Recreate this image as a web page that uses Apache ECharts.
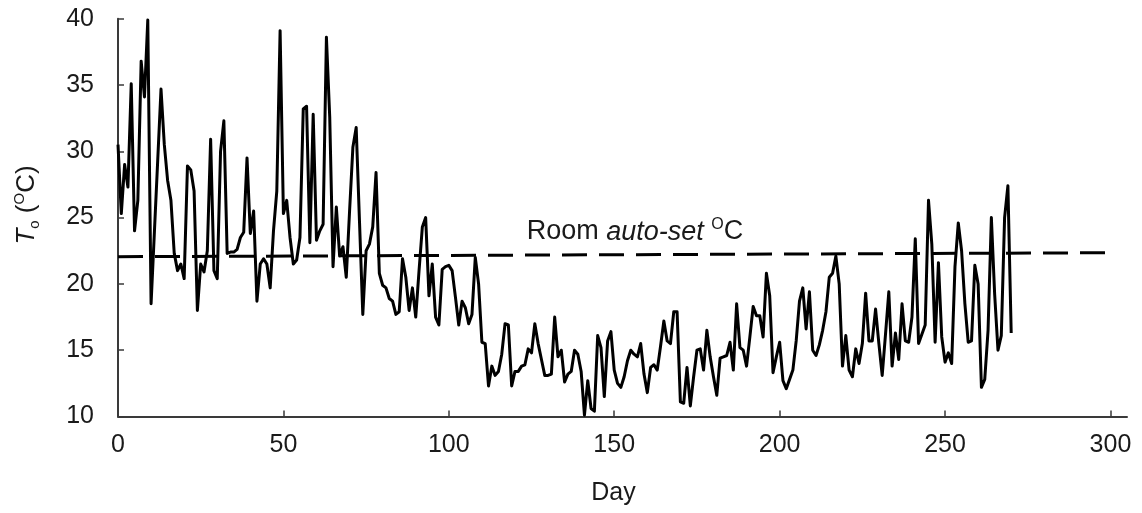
<!DOCTYPE html>
<html>
<head>
<meta charset="utf-8">
<title>Room temperature</title>
<script src="https://cdn.jsdelivr.net/npm/echarts@6/dist/echarts.min.js"></script>
<style>
html, body { margin: 0; padding: 0; background: #fff; }
#lineDomTemp { width: 1142px; height: 513px; }
</style>
</head>
<body>
<div id="lineDomTemp"></div>
<script>
// daily temperature, day 0 .. 270
var firstDay = 0;
var tempO = [
	30.5, 25.3, 29.0, 27.3, 35.1, 24.0, 26.3, 36.8, 34.1, 39.9,
	18.5, 23.9, 29.3, 34.7, 30.5, 27.8, 26.3, 22.3, 21.0, 21.5,
	20.4, 28.9, 28.6, 27.0, 18.0, 21.5, 20.9, 22.5, 30.9, 21.0,
	20.4, 30.0, 32.3, 22.3, 22.4, 22.4, 22.6, 23.5, 23.9, 29.5,
	23.8, 25.5, 18.7, 21.5, 21.9, 21.5, 19.7, 24.0, 27.0, 39.1,
	25.3, 26.3, 23.5, 21.5, 21.8, 23.5, 33.2, 33.4, 23.1, 32.8,
	23.3, 24.0, 24.5, 38.6, 32.6, 21.3, 25.8, 22.1, 22.8, 20.5,
	25.5, 30.3, 31.8, 24.7, 17.7, 22.5, 23.0, 24.3, 28.4, 20.8,
	19.9, 19.7, 18.9, 18.7, 17.7, 17.9, 21.9, 20.5, 18.0, 19.7,
	17.5, 21.0, 24.3, 25.0, 19.1, 21.5, 17.5, 16.9, 21.1, 21.3,
	21.4, 21.0, 19.0, 16.9, 18.7, 18.2, 17.0, 17.7, 22.0, 20.0,
	15.6, 15.5, 12.3, 13.8, 13.1, 13.4, 14.7, 17.0, 16.9, 12.3,
	13.4, 13.4, 13.8, 13.9, 15.1, 14.8, 17.0, 15.5, 14.3, 13.1,
	13.1, 13.2, 17.5, 14.5, 15.0, 12.6, 13.2, 13.4, 15.0, 14.7,
	13.4, 10.1, 12.7, 10.6, 10.4, 16.1, 15.2, 11.5, 15.7, 16.4,
	13.5, 12.5, 12.2, 13.0, 14.2, 15.0, 14.7, 14.5, 15.5, 13.2,
	11.8, 13.7, 13.9, 13.5, 15.3, 17.2, 15.7, 15.5, 17.9, 17.9,
	11.1, 11.0, 13.7, 10.8, 13.0, 15.0, 15.1, 13.5, 16.5, 14.5,
	13.0, 11.6, 14.4, 14.5, 14.6, 15.6, 13.5, 18.5, 15.2, 15.0,
	13.8, 16.0, 18.3, 17.6, 17.6, 16.0, 20.8, 19.1, 13.3, 14.5,
	15.6, 12.7, 12.1, 12.8, 13.5, 15.7, 18.7, 19.7, 16.6, 19.4,
	15.0, 14.6, 15.4, 16.5, 17.9, 20.5, 20.8, 22.1, 20.0, 13.8,
	16.1, 13.5, 13.0, 15.1, 14.0, 15.5, 19.3, 15.7, 15.7, 18.1,
	15.5, 13.1, 16.2, 19.4, 13.8, 16.3, 14.3, 18.5, 15.7, 15.6,
	17.5, 23.4, 15.5, 16.2, 16.9, 26.3, 23.0, 15.6, 21.6, 16.0,
	14.1, 14.8, 14.0, 21.3, 24.6, 22.5, 18.5, 15.6, 15.7, 21.4,
	20.0, 12.2, 12.8, 16.5, 25.0, 19.2, 15.0, 16.1, 25.0, 27.4,
	16.3
];
// room auto-set line (start / end)
var autoSetDays = [0, 301];
var autoSetTemp = [22.05, 22.35];
// axis ticks
var xTicks = [0, 50, 100, 150, 200, 250, 300];
var yMin = 10, yMax = 40, yStep = 5;

var fontName = "'Liberation Sans', Arial, sans-serif";
var textColor = "#1a1a1a";
var axisColor = "#3a3a3a";

var tempData = [];
for (var i = 0; i < tempO.length; i++) {
	tempData.push([firstDay + i, tempO[i]]);
}
var autoSetData = [];
for (var j = 0; j < autoSetDays.length; j++) {
	autoSetData.push([autoSetDays[j], autoSetTemp[j]]);
}

var myChartTemp = echarts.init(document.getElementById('lineDomTemp'));
var optionTemp = {
	animation : false,
	grid : {
		left : 118,
		right : 15,
		top : 18.7,
		bottom : 96.5,
		outerBoundsMode : 'none'
	},
	xAxis : {
		type : 'value',
		min : 0,
		max : 305,
		interval : 50,
		splitLine : { show : false },
		axisLine : { lineStyle : { color : axisColor, width : 2 } },
		axisTick : {
			inside : true,
			length : 6,
			customValues : xTicks,
			lineStyle : { color : axisColor, width : 1.5 }
		},
		axisLabel : {
			margin : 16,
			customValues : xTicks,
			color : textColor,
			fontFamily : fontName,
			fontSize : 25
		},
		name : 'Day',
		nameLocation : 'middle',
		nameGap : 64,
		nameTextStyle : {
			color : textColor,
			fontFamily : fontName,
			fontSize : 25,
			padding : [0, 18, 0, 0]
		}
	},
	yAxis : {
		type : 'value',
		min : yMin,
		max : yMax,
		interval : yStep,
		splitLine : { show : false },
		axisLine : { show : true, lineStyle : { color : axisColor, width : 2 } },
		axisTick : {
			show : true,
			inside : true,
			length : 6,
			lineStyle : { color : axisColor, width : 1.5 }
		},
		axisLabel : {
			margin : 24,
			color : textColor,
			fontFamily : fontName,
			fontSize : 25
		}
	},
	graphic : [ {
		type : 'text',
		x : 27,
		y : 205,
		rotation : Math.PI / 2,
		style : {
			text : '{i|T}{sub|o} ({sup|O}C)',
			align : 'center',
			verticalAlign : 'middle',
			fill : textColor,
			font : '26px ' + fontName,
			rich : {
				i : { fontStyle : 'italic', fontSize : 26, fontFamily : fontName, lineHeight : 30 },
				sub : { fontSize : 15, fontFamily : fontName, verticalAlign : 'bottom', lineHeight : 15 },
				sup : { fontSize : 15, fontFamily : fontName, verticalAlign : 'top', lineHeight : 15 }
			}
		}
	}, {
		type : 'text',
		x : 635,
		y : 232,
		style : {
			text : 'Room {i|auto-set} {sup|O}C',
			align : 'center',
			verticalAlign : 'middle',
			fill : textColor,
			font : '27px ' + fontName,
			rich : {
				i : { fontStyle : 'italic', fontSize : 27, fontFamily : fontName, lineHeight : 30 },
				sup : { fontSize : 16, fontFamily : fontName, verticalAlign : 'top', lineHeight : 15 }
			}
		}
	} ],
	series : [ {
		name : 'Room auto-set',
		type : 'line',
		data : autoSetData,
		symbol : 'none',
		silent : true,
		lineStyle : { color : '#000', width : 3, type : [25, 12] }
	}, {
		name : 'To',
		type : 'line',
		data : tempData,
		symbol : 'none',
		lineStyle : { color : '#000', width : 3, join : 'round' }
	} ]
};
myChartTemp.setOption(optionTemp);
</script>
</body>
</html>
